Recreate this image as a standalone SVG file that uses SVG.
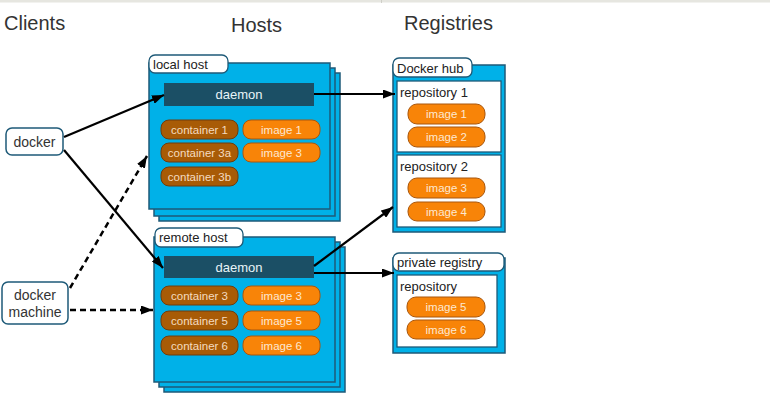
<svg xmlns="http://www.w3.org/2000/svg" width="770" height="400" viewBox="0 0 770 400">
<defs>
<style>
.hdr{font-family:"Liberation Sans",Arial,sans-serif;font-size:20px;fill:#333}
.host{fill:#00b1e8;stroke:#1e5a78;stroke-width:1.5}
.lbl{fill:#fff;stroke:#1e5a78;stroke-width:1.3}
.lt{font-family:"Liberation Sans",Arial,sans-serif;font-size:13px;fill:#222}
.dm{fill:#1b4f65}
.dmt{font-family:"Liberation Sans",Arial,sans-serif;font-size:13px;fill:#e8f4f8;text-anchor:middle}
.ct{fill:#a85b06;stroke:#6e3d0c;stroke-width:1}
.ctt{font-family:"Liberation Sans",Arial,sans-serif;font-size:11.5px;fill:#f5dcc0;text-anchor:middle}
.im{fill:#f88408;stroke:#a9560c;stroke-width:1}
.imt{font-family:"Liberation Sans",Arial,sans-serif;font-size:11.5px;fill:#fde8d2;text-anchor:middle}
.repo{fill:#fff;stroke:#1e5a78;stroke-width:1.3}
.cl{fill:#fff;stroke:#1e5a78;stroke-width:1.5}
.clt{font-family:"Liberation Sans",Arial,sans-serif;font-size:14px;fill:#333;text-anchor:middle}
.ln{fill:none;stroke:#000;stroke-width:2.2}
.dash{stroke-dasharray:6,4;stroke-width:2.5}
</style>
<marker id="ah" viewBox="0 0 12 9" refX="12" refY="4.5" markerWidth="12" markerHeight="9" markerUnits="userSpaceOnUse" orient="auto">
<path d="M0,0 L12,4.5 L0,9 z" fill="#000"/>
</marker>
</defs>
<rect x="0" y="0" width="770" height="400" fill="#fff"/>
<rect x="0" y="0" width="770" height="2.5" fill="#e6e6e0"/>
<rect x="381" y="0" width="1" height="3" fill="#cfcfc8"/>

<text class="hdr" x="4" y="30">Clients</text>
<text class="hdr" x="231" y="32">Hosts</text>
<text class="hdr" x="404" y="30">Registries</text>

<g id="docker">
<rect class="cl" x="6" y="128" width="57" height="27" rx="6"/>
<text class="clt" x="34.5" y="147">docker</text>
</g>
<g id="docker-machine">
<rect class="cl" x="2" y="282" width="66" height="42" rx="6"/>
<text class="clt" x="35" y="300">docker</text>
<text class="clt" x="35" y="317">machine</text>
</g>

<g id="local-host">
<rect class="host" x="159" y="73" width="181" height="148"/>
<rect class="host" x="154" y="68" width="181" height="148"/>
<rect class="host" x="149" y="63" width="181" height="146"/>
<rect class="lbl" x="149" y="55" width="79" height="18" rx="6"/>
<text class="lt" x="153" y="69">local host</text>
<rect class="dm" x="164" y="83" width="150" height="23"/>
<text class="dmt" x="239" y="99">daemon</text>
<rect class="ct" x="161" y="120" width="77" height="19" rx="8"/>
<text class="ctt" x="199.5" y="134">container 1</text>
<rect class="ct" x="161" y="143" width="77" height="19" rx="8"/>
<text class="ctt" x="199.5" y="157">container 3a</text>
<rect class="ct" x="161" y="167" width="77" height="19" rx="8"/>
<text class="ctt" x="199.5" y="181">container 3b</text>
<rect class="im" x="243" y="120" width="77" height="19" rx="8"/>
<text class="imt" x="281.5" y="134">image 1</text>
<rect class="im" x="243" y="143" width="77" height="19" rx="8"/>
<text class="imt" x="281.5" y="157">image 3</text>
</g>

<g id="remote-host">
<rect class="host" x="164" y="247" width="181" height="145"/>
<rect class="host" x="159" y="242" width="181" height="145"/>
<rect class="host" x="154" y="237" width="181" height="145"/>
<rect class="lbl" x="155" y="228" width="88" height="19" rx="6"/>
<text class="lt" x="159" y="242">remote host</text>
<rect class="dm" x="164" y="256" width="150" height="22"/>
<text class="dmt" x="239" y="272">daemon</text>
<rect class="ct" x="161" y="286" width="77" height="19" rx="8"/>
<text class="ctt" x="199.5" y="300">container 3</text>
<rect class="ct" x="161" y="311" width="77" height="19" rx="8"/>
<text class="ctt" x="199.5" y="325">container 5</text>
<rect class="ct" x="161" y="336" width="77" height="19" rx="8"/>
<text class="ctt" x="199.5" y="350">container 6</text>
<rect class="im" x="243" y="286" width="77" height="19" rx="8"/>
<text class="imt" x="281.5" y="300">image 3</text>
<rect class="im" x="243" y="311" width="77" height="19" rx="8"/>
<text class="imt" x="281.5" y="325">image 5</text>
<rect class="im" x="243" y="336" width="77" height="19" rx="8"/>
<text class="imt" x="281.5" y="350">image 6</text>
</g>

<g id="docker-hub">
<rect class="host" x="393" y="65" width="112" height="167"/>
<rect class="lbl" x="393" y="58" width="79" height="19" rx="6"/>
<text class="lt" x="397" y="73">Docker hub</text>
<rect class="repo" x="397" y="81" width="104" height="71"/>
<text class="lt" x="400" y="97">repository 1</text>
<rect class="im" x="408" y="104" width="77" height="20" rx="9"/>
<text class="imt" x="446.5" y="118">image 1</text>
<rect class="im" x="408" y="127" width="77" height="20" rx="9"/>
<text class="imt" x="446.5" y="141">image 2</text>
<rect class="repo" x="397" y="155" width="104" height="72"/>
<text class="lt" x="400" y="171">repository 2</text>
<rect class="im" x="408" y="178" width="77" height="20" rx="9"/>
<text class="imt" x="446.5" y="192">image 3</text>
<rect class="im" x="408" y="202" width="77" height="19" rx="9"/>
<text class="imt" x="446.5" y="216">image 4</text>
</g>

<g id="private-registry">
<rect class="host" x="393" y="258" width="112" height="95"/>
<rect class="lbl" x="393" y="253" width="111" height="18" rx="6"/>
<text class="lt" x="397" y="267">private registry</text>
<rect class="repo" x="397" y="275" width="100" height="72"/>
<text class="lt" x="400" y="291">repository</text>
<rect class="im" x="407" y="297" width="78" height="20" rx="9"/>
<text class="imt" x="446" y="311">image 5</text>
<rect class="im" x="407" y="320" width="78" height="19" rx="9"/>
<text class="imt" x="446" y="334">image 6</text>
</g>

<g id="connectors">
<line class="ln" x1="64" y1="137" x2="164" y2="95" marker-end="url(#ah)"/>
<line class="ln" x1="64" y1="150" x2="163" y2="268" marker-end="url(#ah)"/>
<line class="ln dash" x1="70" y1="288" x2="147" y2="156" marker-end="url(#ah)"/>
<line class="ln dash" x1="70" y1="310" x2="153" y2="310" marker-end="url(#ah)"/>
<line class="ln" x1="314" y1="94" x2="395" y2="94" marker-end="url(#ah)"/>
<line class="ln" x1="314" y1="266" x2="393" y2="207" marker-end="url(#ah)"/>
<line class="ln" x1="314" y1="273" x2="394" y2="273" marker-end="url(#ah)"/>
</g>
</svg>
